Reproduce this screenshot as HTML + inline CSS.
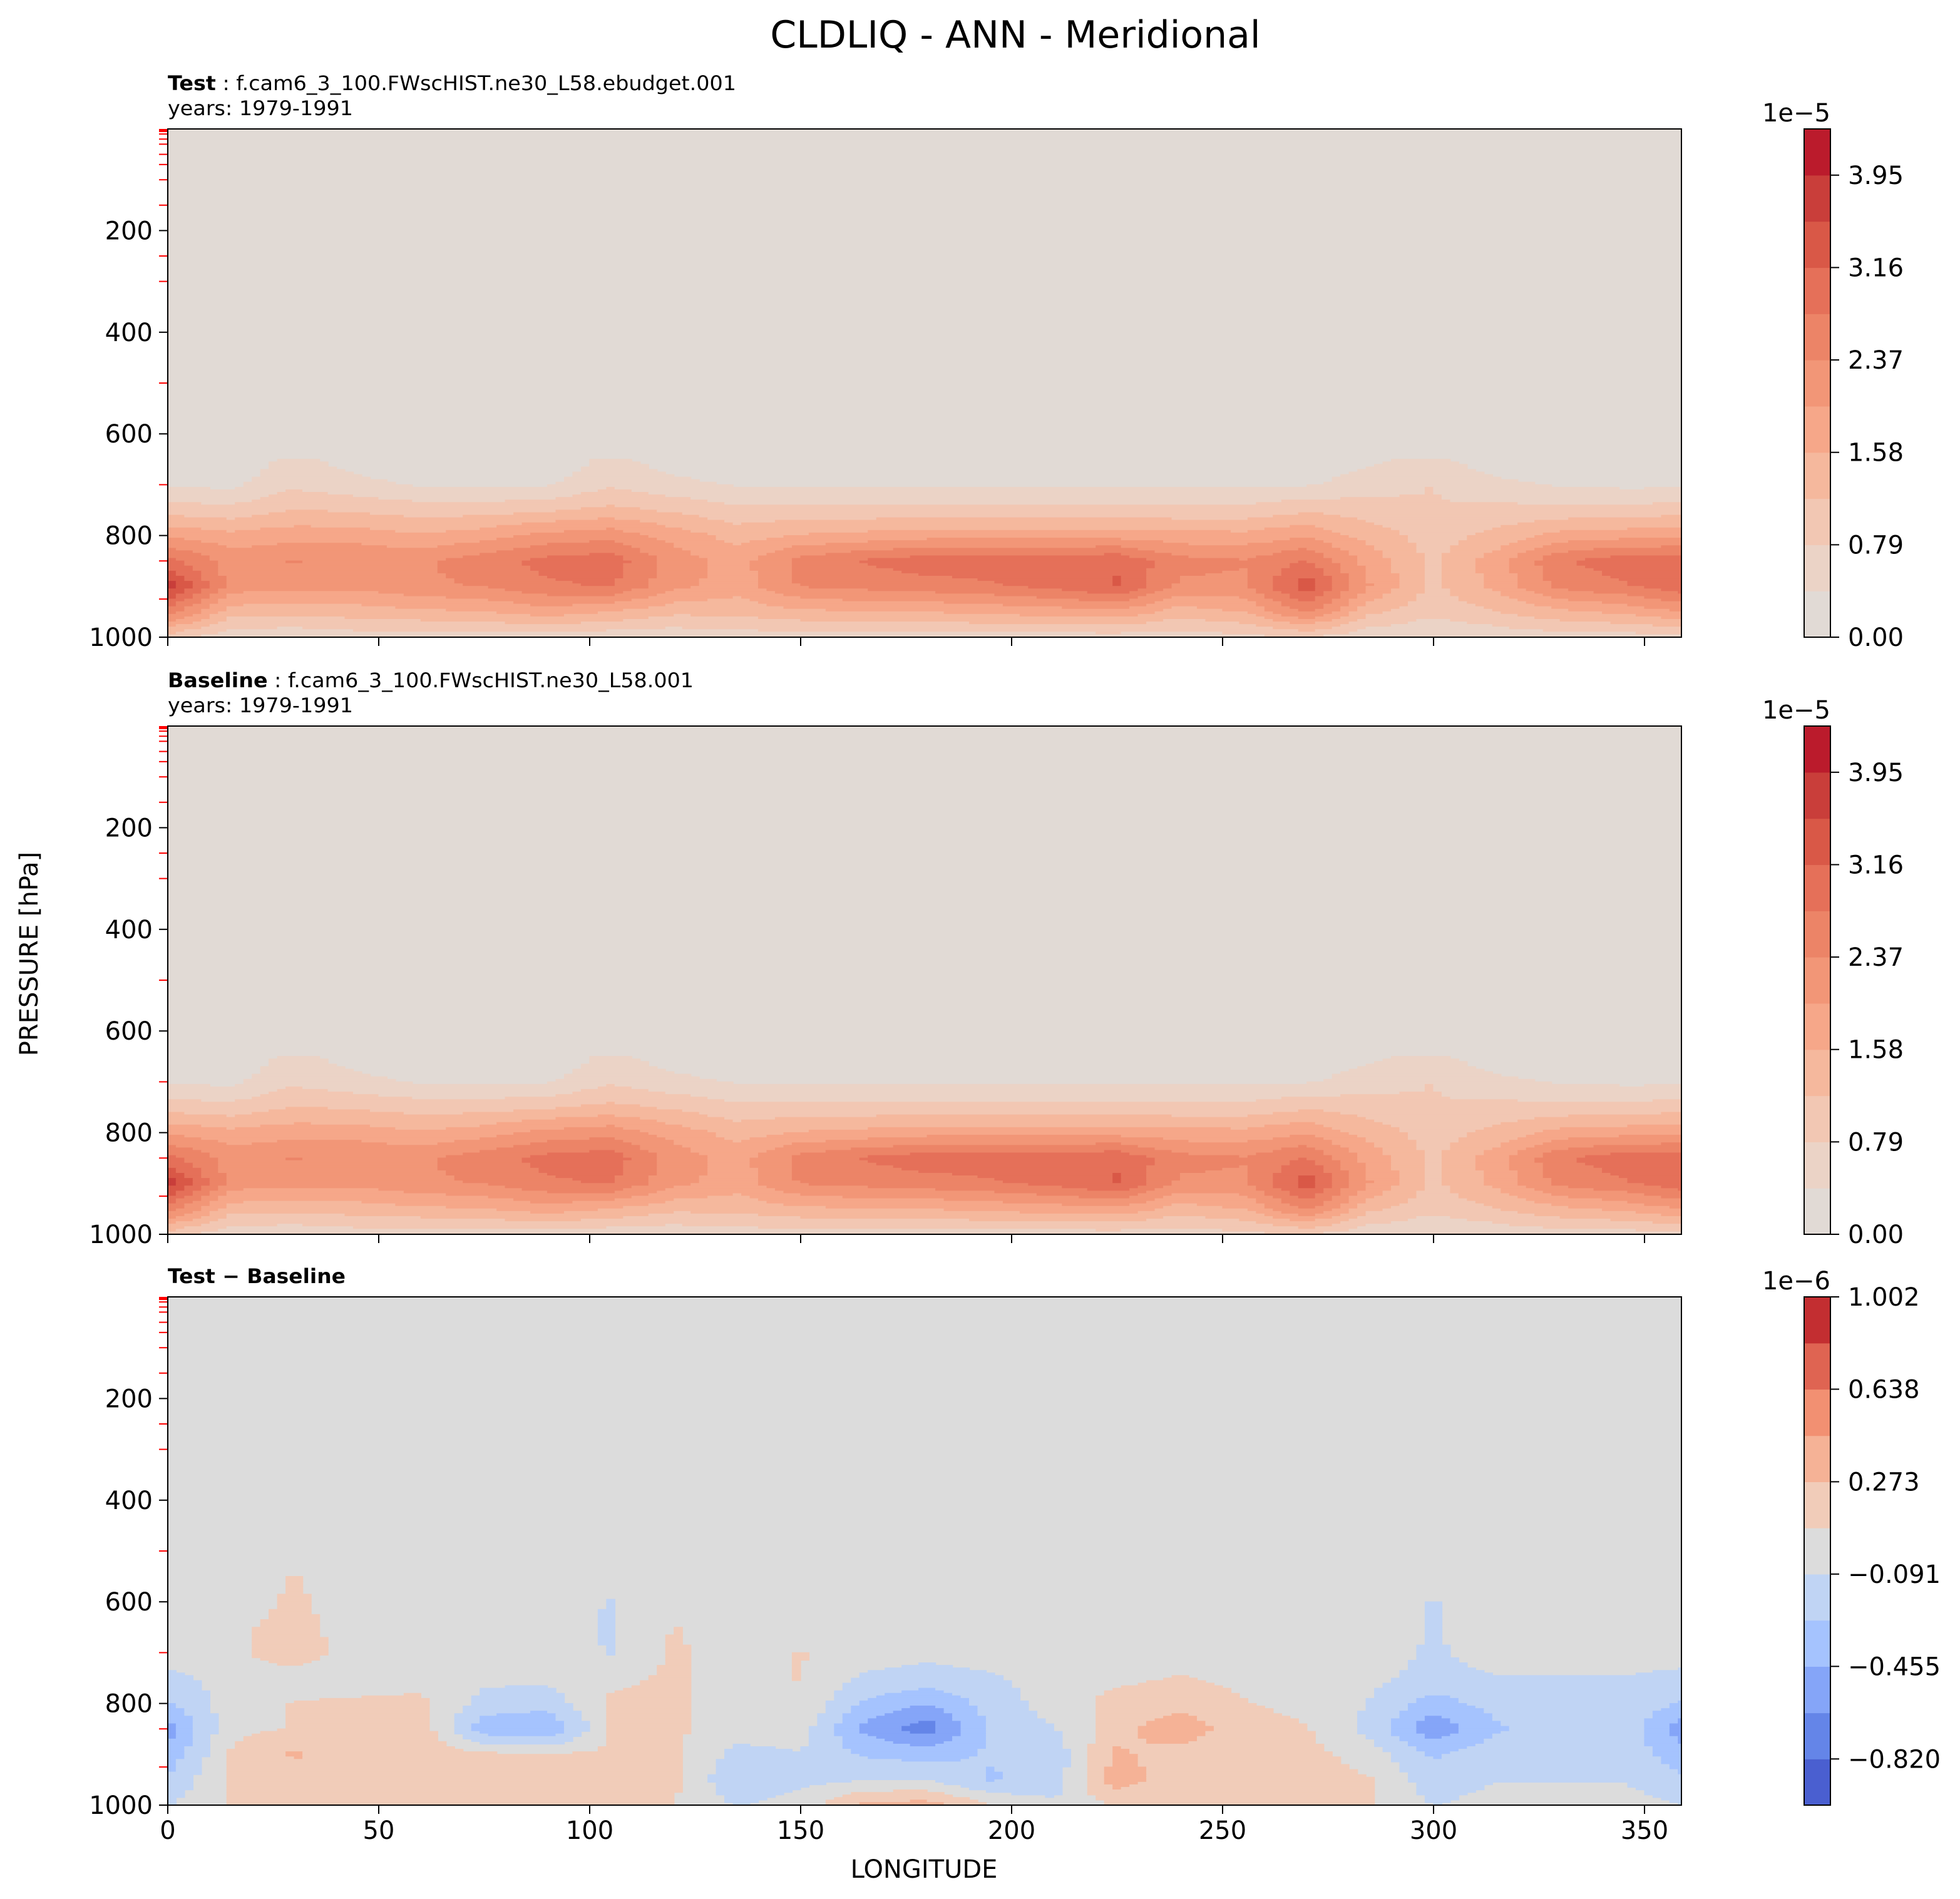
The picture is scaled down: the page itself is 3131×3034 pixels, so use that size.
<!DOCTYPE html>
<html><head><meta charset="utf-8"><style>
html,body{margin:0;padding:0;background:#fff}
svg{display:block;font-family:"DejaVu Sans","Liberation Sans",sans-serif}
</style></head><body>
<svg id="fig" width="3131" height="3034" viewBox="0 0 1565.5 1517" xmlns="http://www.w3.org/2000/svg">
<rect x="0" y="0" width="1565.5" height="1517" fill="#fff"/>
<text x="811" y="38" font-size="30" text-anchor="middle">CLDLIQ - ANN - Meridional</text>
<text x="134" y="72" font-size="16" textLength="454" lengthAdjust="spacingAndGlyphs"><tspan font-weight="bold">Test</tspan> : f.cam6_3_100.FWscHIST.ne30_L58.ebudget.001</text>
<text x="134" y="92" font-size="16" textLength="148" lengthAdjust="spacingAndGlyphs">years: 1979-1991</text>
<text x="134" y="549" font-size="16" textLength="420" lengthAdjust="spacingAndGlyphs"><tspan font-weight="bold">Baseline</tspan> : f.cam6_3_100.FWscHIST.ne30_L58.001</text>
<text x="134" y="569" font-size="16" textLength="148" lengthAdjust="spacingAndGlyphs">years: 1979-1991</text>
<text x="134" y="1025" font-size="16" font-weight="bold" textLength="142" lengthAdjust="spacingAndGlyphs">Test − Baseline</text>
<text x="0" y="0" font-size="20" text-anchor="middle" transform="translate(30,762) rotate(-90)">PRESSURE [hPa]</text>
<text x="738" y="1500" font-size="20" text-anchor="middle">LONGITUDE</text>
<g id="plots"></g>
</svg>
<script>
// ---- data ----
const lonGrid = [0,15,30,45,60,75,90,105,120,135,150,165,180,195,210,225,240,255,270,285,300,315,330,345,360];
const presGridAbs = [650,700,750,800,850,900,950,1000];
const testVals = [
[0.1,0.1,0.5,0.2,0.1,0.1,0.1,0.5,0.2,0.1,0.1,0.1,0.1,0.1,0.1,0.1,0.1,0.1,0.1,0.3,0.5,0.1,0.1,0.1,0.1],
[0.3,0.3,0.7,0.5,0.35,0.35,0.35,0.7,0.5,0.35,0.35,0.35,0.35,0.35,0.35,0.35,0.35,0.35,0.35,0.6,0.8,0.5,0.35,0.3,0.3],
[1.0,0.9,1.2,1.1,1.0,1.0,1.1,1.3,1.1,0.9,0.9,0.9,0.9,0.9,0.9,0.9,0.9,0.9,1.1,1.0,0.8,0.9,0.9,0.9,1.0],
[1.9,1.7,1.8,1.8,1.6,1.8,2.1,2.2,1.8,1.4,1.6,1.7,1.8,1.8,1.8,1.8,1.7,1.7,1.9,1.4,1.0,1.3,1.7,1.8,1.9],
[2.9,2.2,2.4,2.3,2.3,2.6,2.9,3.0,2.2,1.8,2.5,2.8,3.0,3.0,3.0,3.1,2.5,2.4,2.8,1.8,1.1,1.8,2.7,3.0,3.0],
[3.8,2.2,2.1,2.1,2.3,2.4,2.7,2.8,2.1,1.8,2.4,2.5,2.6,2.7,2.9,3.2,2.3,2.3,3.4,2.0,1.1,1.7,2.5,2.7,3.1],
[2.6,1.4,1.3,1.4,1.5,1.6,1.8,1.6,1.3,1.3,1.5,1.6,1.6,1.7,1.8,1.9,1.4,1.6,2.5,1.3,0.9,1.2,1.5,1.7,2.0],
[1.0,0.5,0.5,0.6,0.6,0.6,0.6,0.5,0.5,0.6,0.6,0.6,0.6,0.6,0.6,0.6,0.6,0.7,0.8,0.5,0.4,0.5,0.6,0.6,0.7]];
const baseVals = [
[0.1,0.1,0.5,0.2,0.1,0.1,0.1,0.5,0.2,0.1,0.1,0.1,0.1,0.1,0.1,0.1,0.1,0.1,0.1,0.3,0.5,0.1,0.1,0.1,0.1],
[0.3,0.3,0.7,0.5,0.35,0.35,0.35,0.7,0.5,0.35,0.35,0.35,0.35,0.35,0.35,0.35,0.35,0.35,0.35,0.6,0.8,0.5,0.35,0.3,0.3],
[1.0,0.9,1.2,1.1,1.0,1.0,1.1,1.3,1.1,0.9,0.9,0.9,0.9,0.9,0.9,0.9,0.9,0.9,1.1,1.0,0.8,0.9,0.9,0.9,1.0],
[1.9,1.7,1.8,1.8,1.6,1.8,2.1,2.2,1.8,1.4,1.6,1.7,1.8,1.8,1.8,1.8,1.7,1.7,1.9,1.4,1.0,1.3,1.7,1.8,1.9],
[2.9,2.2,2.4,2.3,2.3,2.6,2.9,3.0,2.2,1.8,2.5,2.8,3.0,3.0,3.0,3.1,2.5,2.4,2.8,1.8,1.1,1.8,2.7,3.0,3.0],
[3.8,2.2,2.1,2.1,2.3,2.4,2.7,2.8,2.1,1.8,2.4,2.5,2.6,2.7,2.9,3.2,2.3,2.3,3.4,2.0,1.1,1.7,2.5,2.7,3.1],
[2.6,1.4,1.3,1.4,1.5,1.6,1.8,1.6,1.3,1.3,1.5,1.6,1.6,1.7,1.8,1.9,1.4,1.6,2.5,1.3,0.9,1.2,1.5,1.7,2.0],
[1.0,0.5,0.5,0.6,0.6,0.6,0.6,0.5,0.5,0.6,0.6,0.6,0.6,0.6,0.6,0.6,0.6,0.7,0.8,0.5,0.4,0.5,0.6,0.6,0.7]];
const presGridDiff = [500,550,600,650,700,750,800,850,900,950,1000];
const diffVals = [
[0.1,0,0,0,0,0,0,0,0,0,0,0,0,0,0,0,0,0,0,0,0,0,0,0,0],
[0,0,0.1,0,0,0,0,0,0,0,0,0,0,0,0,0,0,0,0,0,0,0,0,0,0],
[0,0,0.12,0,0,0,0,-0.1,0,0,0,0,0,0,0,0,0,0,0,0,-0.1,0,0,0,0],
[0,0.05,0.15,0,0,0,0,-0.12,0.1,0,0,0,0,0,0,0,0,0,0,0,-0.1,0,0,0,0],
[0,0.05,0.2,0,0,0,0,-0.1,0.12,0,0.1,0,-0.05,0,0,0,0,0,0,0,-0.12,0,0,0,0],
[-0.15,0,0,0,0.05,-0.05,-0.05,0.05,0.12,0,0.1,-0.12,-0.15,-0.12,0,0.05,0.1,0.05,0,-0.05,-0.15,-0.1,-0.1,-0.1,-0.15],
[-0.3,0,0.1,0.12,0.12,-0.15,-0.2,0.12,0.12,0,0.08,-0.3,-0.45,-0.2,0,0.15,0.2,0.1,0.05,-0.1,-0.35,-0.2,-0.15,-0.12,-0.3],
[-0.55,0.05,0.1,0.15,0.2,-0.4,-0.45,0.1,0.12,0,0,-0.5,-0.75,-0.25,-0.1,0.2,0.4,0.15,0.1,-0.15,-0.6,-0.3,-0.15,-0.15,-0.6],
[-0.4,0.1,0.3,0.15,0.2,0.12,0.1,0.12,0.12,-0.15,-0.1,-0.3,-0.35,-0.25,-0.2,0.3,0.2,0.1,0.15,0,-0.3,-0.15,-0.12,-0.15,-0.4],
[-0.25,0.12,0.2,0.15,0.2,0.12,0.1,0.12,0.12,-0.25,-0.15,-0.1,-0.1,-0.3,-0.2,0.4,0.12,0.12,0.2,0.1,-0.2,-0.1,-0.1,-0.1,-0.25],
[-0.1,0.1,0.1,0.1,0.1,0.1,0.1,0.1,0.1,-0.1,0,0.3,0.35,0.1,-0.05,0.1,0.1,0.1,0.15,0.12,-0.1,0,0,0,-0.1]];
const absLevels = [0,0.395,0.79,1.185,1.58,1.975,2.37,2.765,3.16,3.555,3.95,4.345];
const absTickLabels = ["0.00","0.79","1.58","2.37","3.16","3.95"];
const diffLevels = [-1.002,-0.820,-0.638,-0.455,-0.273,-0.091,0.091,0.273,0.455,0.638,0.820,1.002];
const diffTickLabels = ["−0.820","−0.455","−0.091","0.273","0.638","1.002"];
const absColors = ["#e1dad5","#ebd3c6","#f2c7b3","#f5b89d","#f6a789","#f29677","#ec8467","#e57059","#d95847","#c93e3a","#bb1b2c"];
const diffColors = ["#4a5fd0","#6485e8","#85a5f8","#a5c3fe","#c0d4f4","#dcdcdc","#f1ccb9","#f5b296","#f29072","#df6452","#c32e31"];
const pressTicks = [200,400,600,800,1000];
const lonTicks = [0,50,100,150,200,250,300,350];
const modelLevels = [2,5,10,20,30,50,70,100,150,250,300,500,700,850,925];

// ---- layout ----
const AX0 = 134, AX1 = 1343, LONMAX = 358.75, AH = 406;
const CBX = 1441, CBW = 21;
const NS = "http://www.w3.org/2000/svg";
const root = document.getElementById('plots');
function xs(lon){ return AX0 + lon/LONMAX*(AX1-AX0); }
function ys(p, y0){ return y0 + p/1000*AH; }
function mk(tag, attrs, parent){ const e=document.createElementNS(NS,tag); for(const k in attrs) e.setAttribute(k,attrs[k]); parent.appendChild(e); return e; }
function interp(lons, pres, vals, lon, p){
  let i=0; while(i<lons.length-2 && lon>lons[i+1]) i++;
  let j=0; while(j<pres.length-2 && p>pres[j+1]) j++;
  const tx=Math.min(1,Math.max(0,(lon-lons[i])/(lons[i+1]-lons[i])));
  const ty=Math.min(1,Math.max(0,(p-pres[j])/(pres[j+1]-pres[j])));
  const a=vals[j][i], b=vals[j][i+1], c=vals[j+1][i], d=vals[j+1][i+1];
  return a*(1-tx)*(1-ty)+b*tx*(1-ty)+c*(1-tx)*ty+d*tx*ty;
}
function levelIdx(v, levels){
  for(let k=0;k<levels.length-1;k++){ if(v<levels[k+1]) return k; }
  return levels.length-2;
}
function panel(name, y0, lons, pres, vals, levels, colors, bgIdx, tickLabels, expLabel, showX){
  const g = mk('g',{},root);
  
  
  const clipId = name+'-clip';
  const cp = mk('clipPath',{id:clipId},g);
  mk('rect',{x:AX0,y:y0,width:AX1-AX0,height:AH},cp);
  const field = mk('g',{'clip-path':'url(#'+clipId+')'},g);
  
  
  mk('rect',{x:AX0,y:y0,width:AX1-AX0,height:AH,fill:colors[bgIdx]},field);
  const dl=2, dp=5;
  for(let p=pres[0]; p<1000; p+=dp){
    let runStart=0, runIdx=-1;
    for(let lon=0; lon<=LONMAX+dl; lon+=dl){
      const idx = lon<=LONMAX ? levelIdx(interp(lons,pres,vals,lon+dl/2,p+dp/2),levels) : -2;
      if(idx!==runIdx){
        if(runIdx>=0 && runIdx!==bgIdx){
          const r=mk('rect',{x:xs(runStart)-0.3,y:ys(p,y0)-0.3,width:xs(lon)-xs(runStart)+0.6,height:ys(p+dp,y0)-ys(p,y0)+0.6,fill:colors[runIdx]},field);
          
          
        }
        runStart=lon; runIdx=idx;
      }
    }
  }
  modelLevels.forEach(pl=>{ mk('line',{x1:AX0-7,x2:AX0,y1:ys(pl,y0),y2:ys(pl,y0),stroke:'#ff0000','stroke-width':1},g); });
  mk('rect',{x:AX0-7,y:y0,width:7,height:2.5,fill:'#ff0000'},g);
  const fr = mk('rect',{x:AX0,y:y0,width:AX1-AX0,height:AH,fill:'none',stroke:'#000','stroke-width':1},g);
  
  
  pressTicks.forEach(pt=>{
    const y=ys(pt,y0);
    mk('line',{x1:AX0-7,x2:AX0,y1:y,y2:y,stroke:'#000','stroke-width':1},g);
    const t=mk('text',{x:AX0-12,y:y+7,'font-size':20,'text-anchor':'end'},g);
    
    
    t.textContent=pt;
  });
  lonTicks.forEach(lt=>{
    const x=xs(lt);
    mk('line',{x1:x,x2:x,y1:y0+AH,y2:y0+AH+7,stroke:'#000','stroke-width':1},g);
    if(showX){
      const t=mk('text',{x:x,y:y0+AH+27,'font-size':20,'text-anchor':'middle'},g);
      
      
      t.textContent=lt;
    }
  });
  const cb = mk('g',{},g);
  
  
  const n=levels.length-1;
  const lmin=levels[0], lmax=levels[n];
  function cy(v){ return y0+AH-(v-lmin)/(lmax-lmin)*AH; }
  for(let k=0;k<n;k++){
    const r=mk('rect',{x:CBX,y:cy(levels[k+1]),width:CBW,height:cy(levels[k])-cy(levels[k+1])+0.3,fill:colors[k]},cb);
    
    
  }
  mk('rect',{x:CBX,y:y0,width:CBW,height:AH,fill:'none',stroke:'#000','stroke-width':1},cb);
  tickLabels.forEach(lbl=>{
    const v=parseFloat(lbl.replace('−','-'));
    const y=cy(v);
    mk('line',{x1:CBX+CBW,x2:CBX+CBW+7,y1:y,y2:y,stroke:'#000','stroke-width':1},cb);
    const t=mk('text',{x:CBX+CBW+14,y:y+7,'font-size':20},cb);
    
    
    t.textContent=lbl;
  });
  const e=mk('text',{x:CBX+CBW,y:y0-6,'font-size':20,'text-anchor':'end'},cb);
  
  
  e.textContent=expLabel;
}
panel('test',103,lonGrid,presGridAbs,testVals,absLevels,absColors,0,absTickLabels,'1e−5',false);
panel('baseline',580,lonGrid,presGridAbs,baseVals,absLevels,absColors,0,absTickLabels,'1e−5',false);
panel('diff',1036,lonGrid,presGridDiff,diffVals,diffLevels,diffColors,5,diffTickLabels,'1e−6',true);
</script>
</body></html>
